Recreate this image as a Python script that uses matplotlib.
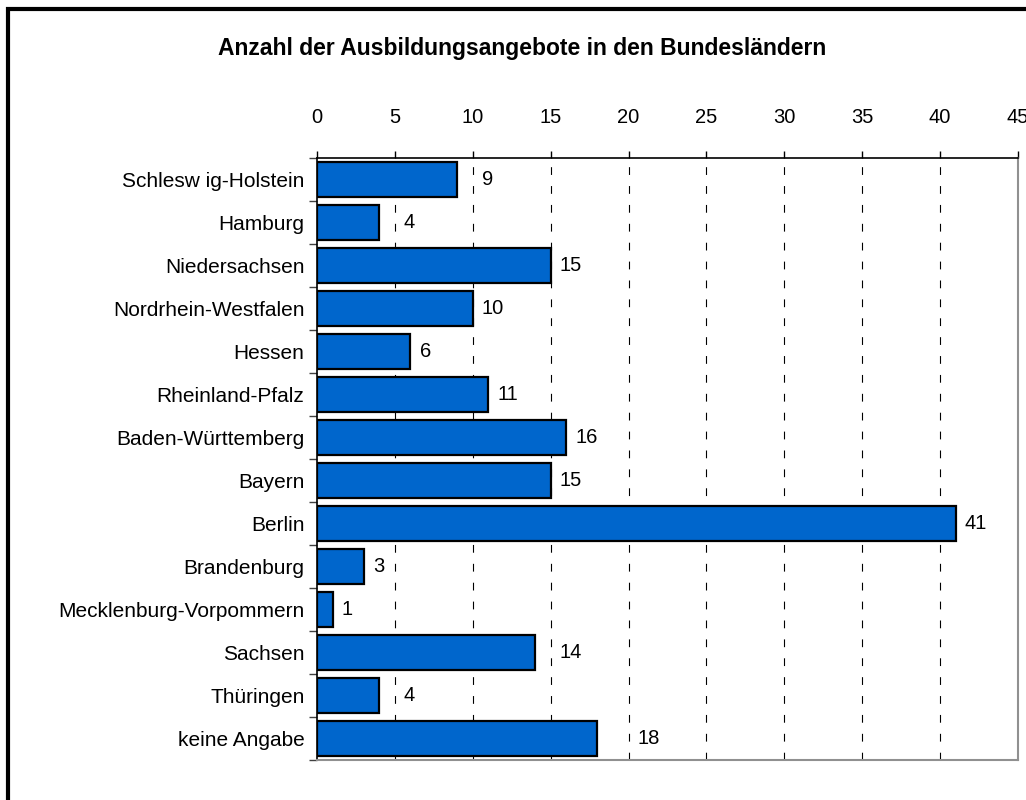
import numpy as np
import matplotlib
matplotlib.use('Agg')
import matplotlib.pyplot as plt
from matplotlib.patches import Rectangle

plt.rcParams['font.family'] = ['Liberation Sans', 'DejaVu Sans']

# data
laender = ['Schlesw ig-Holstein', 'Hamburg', 'Niedersachsen', 'Nordrhein-Westfalen',
           'Hessen', 'Rheinland-Pfalz', 'Baden-Württemberg', 'Bayern', 'Berlin',
           'Brandenburg', 'Mecklenburg-Vorpommern', 'Sachsen', 'Thüringen', 'keine Angabe']
angebote = [9, 4, 15, 10, 6, 11, 16, 15, 41, 3, 1, 14, 4, 18]
xticks = [0, 5, 10, 15, 20, 25, 30, 35, 40, 45]
titel = 'Anzahl der Ausbildungsangebote in den Bundesländern'

fig = plt.figure(figsize=(10.26, 8.0), dpi=100)
ax = fig.add_axes([317/1026, 1 - 760/800, (1018 - 317)/1026, (760 - 158)/800])

y = np.arange(len(laender))
ax.barh(y, angebote, height=0.81, color='#0066CC', edgecolor='black', linewidth=1.6, zorder=3)

ax.set_xlim(0, 45)
ax.set_ylim(len(laender) - 0.5, -0.5)

# grid lines
grid = xticks[1:-1]
for g in grid:
    ax.axvline(g, color='black', lw=0.8, linestyle=(0, (7, 10)), zorder=1)

ax.xaxis.tick_top()
ax.set_xticks(xticks)
ax.set_xticklabels([str(t) for t in xticks], fontsize=14.5)
ax.tick_params(axis='x', direction='out', length=5, width=1, pad=17, colors='black')

ax.set_yticks(y)
ax.set_yticklabels(laender, fontsize=15)
ax.tick_params(axis='y', which='major', length=0, pad=9)
ax.set_yticks(np.arange(-0.5, len(laender)), minor=True)
ax.tick_params(axis='y', which='minor', direction='out', length=6, width=1, color='#404040')

for side in ['top', 'left']:
    ax.spines[side].set_color('black')
    ax.spines[side].set_linewidth(1.2)
for side in ['right', 'bottom']:
    ax.spines[side].set_color('#909090')
    ax.spines[side].set_linewidth(1.5)

# value labels, moved past a grid line when they would sit on it (like Excel does)
gap = 0.58
for yi, v in zip(y, angebote):
    start = v + gap
    breite = len(str(v)) * 0.55
    for g in grid:
        if v < g < start + breite + 0.4:
            start = g + gap
            break
    ax.text(start, yi, str(v), ha='left', va='center', fontsize=14.5)

fig.text(522/1026, 1 - 48/800, titel, ha='center', va='center', fontsize=16.5, fontweight='bold')

# outer frame
fig.patches.append(Rectangle((8/1026, -0.1), 1.2, 1.1 - 8.5/800, transform=fig.transFigure,
                             fill=False, edgecolor='black', linewidth=3, clip_on=False))

fig.savefig('out.png', dpi=100)
